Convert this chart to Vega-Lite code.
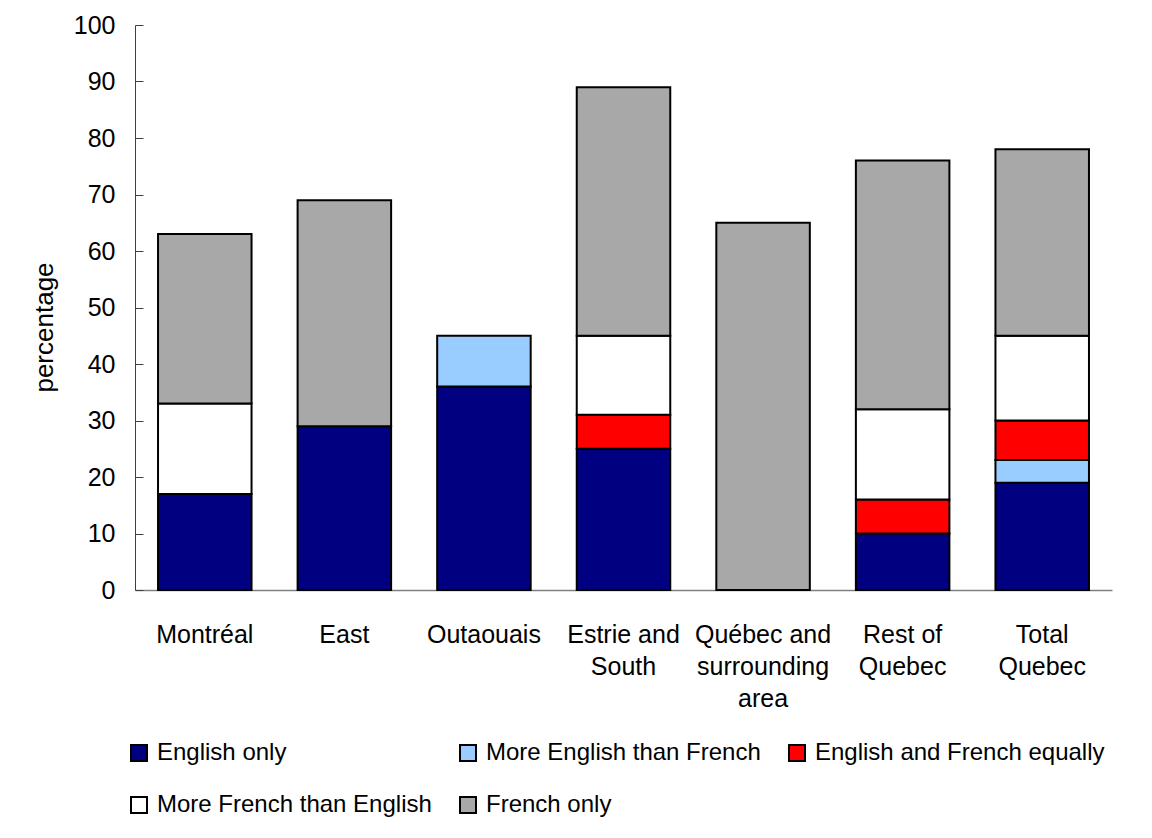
{
  "$schema": "https://vega.github.io/schema/vega-lite/v6.json",
  "width": 977,
  "height": 565,
  "autosize": "none",
  "padding": {"left": 135, "top": 25, "right": 40, "bottom": 248},
  "background": "white",
  "config": {
    "view": {"stroke": null},
    "font": "Liberation Sans",
    "axis": {"labelFont": "Liberation Sans", "titleFont": "Liberation Sans", "labelColor": "black", "titleColor": "black"},
    "legend": {"labelFont": "Liberation Sans"}
  },
  "datasets": {
    "responses": [
      {"response": "English only", "rank": 1},
      {"response": "More English than French", "rank": 2},
      {"response": "English and French equally", "rank": 3},
      {"response": "More French than English", "rank": 4},
      {"response": "French only", "rank": 5}
    ],
    "shares": [
      {"region": "Montréal", "response": "English only", "pct": 17},
      {"region": "Montréal", "response": "More French than English", "pct": 16},
      {"region": "Montréal", "response": "French only", "pct": 30},
      {"region": "East", "response": "English only", "pct": 29},
      {"region": "East", "response": "French only", "pct": 40},
      {"region": "Outaouais", "response": "English only", "pct": 36},
      {"region": "Outaouais", "response": "More English than French", "pct": 9},
      {"region": "Estrie and South", "response": "English only", "pct": 25},
      {"region": "Estrie and South", "response": "English and French equally", "pct": 6},
      {"region": "Estrie and South", "response": "More French than English", "pct": 14},
      {"region": "Estrie and South", "response": "French only", "pct": 44},
      {"region": "Québec and surrounding area", "response": "French only", "pct": 65},
      {"region": "Rest of Quebec", "response": "English only", "pct": 10},
      {"region": "Rest of Quebec", "response": "English and French equally", "pct": 6},
      {"region": "Rest of Quebec", "response": "More French than English", "pct": 16},
      {"region": "Rest of Quebec", "response": "French only", "pct": 44},
      {"region": "Total Quebec", "response": "English only", "pct": 19},
      {"region": "Total Quebec", "response": "More English than French", "pct": 4},
      {"region": "Total Quebec", "response": "English and French equally", "pct": 7},
      {"region": "Total Quebec", "response": "More French than English", "pct": 15},
      {"region": "Total Quebec", "response": "French only", "pct": 33}
    ]
  },
  "data": {"name": "shares"},
  "transform": [
    {"lookup": "response", "from": {"data": {"name": "responses"}, "key": "response", "fields": ["rank"]}}
  ],
  "mark": {"type": "bar", "stroke": "black", "strokeWidth": 2},
  "encoding": {
    "x": {
      "field": "region",
      "type": "nominal",
      "sort": ["Montréal", "East", "Outaouais", "Estrie and South", "Québec and surrounding area", "Rest of Quebec", "Total Quebec"],
      "scale": {"paddingInner": 0.33, "paddingOuter": 0.165},
      "axis": {
        "title": null,
        "labelAngle": 0,
        "ticks": false,
        "labelPadding": 32,
        "labelFontSize": 25,
        "labelLineHeight": 32,
        "labelBaseline": "top",
        "labelOverlap": false,
        "labelLimit": 400,
        "labelBound": false,
        "domainColor": "#808080",
        "domainWidth": 1.5,
        "labelExpr": "datum.value == 'Estrie and South' ? ['Estrie and', 'South'] : datum.value == 'Québec and surrounding area' ? ['Québec and', 'surrounding', 'area'] : datum.value == 'Rest of Quebec' ? ['Rest of', 'Quebec'] : datum.value == 'Total Quebec' ? ['Total', 'Quebec'] : datum.value"
      }
    },
    "y": {
      "field": "pct",
      "type": "quantitative",
      "stack": "zero",
      "scale": {"domain": [0, 100], "nice": false},
      "axis": {
        "title": "percentage",
        "titleFontSize": 26,
        "titleFontWeight": "normal",
        "titlePadding": 16,
        "titleY": 302,
        "values": [0, 10, 20, 30, 40, 50, 60, 70, 80, 90, 100],
        "grid": false,
        "labelFontSize": 25,
        "labelPadding": 28,
        "tickSize": -8,
        "tickColor": "#404040",
        "domainColor": "#404040",
        "labelFlush": false
      }
    },
    "color": {
      "field": "response",
      "type": "nominal",
      "sort": ["English only", "More English than French", "English and French equally", "More French than English", "French only"],
      "scale": {
        "domain": ["English only", "More English than French", "English and French equally", "More French than English", "French only"],
        "range": ["#000080", "#99CCFF", "#FF0000", "#FFFFFF", "#A8A8A8"]
      },
      "legend": {
        "title": null,
        "orient": "none",
        "legendX": -8,
        "legendY": 716,
        "direction": "horizontal",
        "columns": 3,
        "gridAlign": "all",
        "columnPadding": 9,
        "rowPadding": 28,
        "padding": 0,
        "symbolType": "square",
        "symbolSize": 256,
        "symbolStrokeColor": "black",
        "symbolStrokeWidth": 2,
        "symbolOpacity": 1,
        "labelFontSize": 24,
        "labelOffset": 6,
        "labelLimit": 400,
        "labelColor": "black"
      }
    },
    "order": {"field": "rank", "type": "quantitative", "sort": "ascending"}
  }
}
